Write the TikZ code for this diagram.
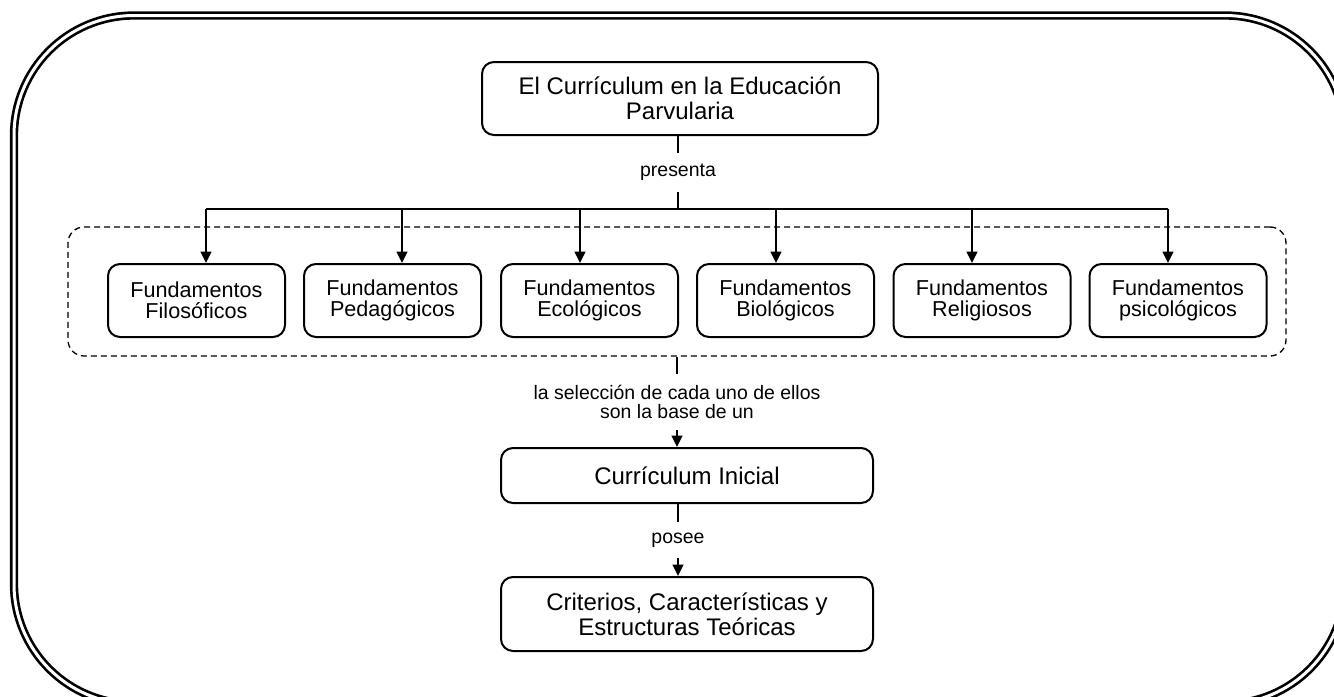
\documentclass[tikz,border=0pt]{standalone}
\usepackage{fontspec}
\setmainfont{Liberation Sans}
\usetikzlibrary{arrows.meta}
\begin{document}
\begin{tikzpicture}[x=0.75pt,y=-0.75pt,
  box/.style={draw, line width=1.5pt, rounded corners=9pt, align=center, inner sep=0pt},
  bigbox/.style={box, font=\fontsize{18}{18.75}\selectfont},
  fundbox/.style={box, minimum width=132.75pt, minimum height=54.75pt,
    font=\fontsize{16.2}{16}\selectfont},
  lbl/.style={inner sep=0pt, align=center, font=\fontsize{14.6}{14.3}\selectfont},
  link/.style={line width=1.5pt},
  arr/.style={link, -{Triangle[width=8pt,length=8.5pt]}},
]
\useasboundingbox (0,0) rectangle (1334,696);
\clip (0,0) rectangle (1334,696);

% outer double frame, running past the right and bottom edges
\draw[line width=2pt, double, double distance=2.25pt, rounded corners=90pt]
  (14,15.5) rectangle (1345,704);

% dashed group around the six fundamentos
\node[draw, line width=1pt, dash pattern=on 4.5pt off 3pt, rounded corners=12pt,
  minimum width=913.5pt, minimum height=96.75pt, inner sep=0pt] (grp) at (677,291.5) {};

% main nodes
\node[bigbox, minimum width=297pt, minimum height=54.75pt] (top) at (680,98.5)
  {El Currículum en la Educación\\Parvularia};

\node[fundbox] (f1) at (196.5,300.5) {Fundamentos\\Filosóficos};
\node[fundbox] (f2) at (392.5,300.5) {Fundamentos\\Pedagógicos};
\node[fundbox] (f3) at (589.5,300.5) {Fundamentos\\Ecológicos};
\node[fundbox] (f4) at (785.5,300.5) {Fundamentos\\Biológicos};
\node[fundbox] (f5) at (982,300.5) {Fundamentos\\Religiosos};
\node[fundbox] (f6) at (1178,300.5) {Fundamentos\\psicológicos};

\node[bigbox, minimum width=279pt, minimum height=41.25pt] (ci) at (687,475.5)
  {Currículum Inicial};
\node[bigbox, minimum width=279pt, minimum height=55.5pt] (cr) at (687,614)
  {Criterios, Características y\\Estructuras Teóricas};

% link labels
\node[lbl, minimum height=29.25pt] (presenta) at (678,172.5) {presenta};
\node[lbl, minimum height=42pt] (sel) at (677,402) {la selección de cada uno de ellos\\son la base de un};
\node[lbl, minimum height=27pt] (posee) at (678,540) {posee};

% bus to the fundamentos
\coordinate (bus) at (678,209);
\coordinate (b1) at (206,209);
\coordinate (b2) at (402,209);
\coordinate (b3) at (580,209);
\coordinate (b4) at (776,209);
\coordinate (b5) at (972,209);
\coordinate (b6) at (1168,209);

\draw[link] (top.south -| presenta) -- (presenta.north);
\draw[link] (presenta.south) -- (bus);
\draw[link] (b1) -- (b6);
\draw[arr] (b1) -- (b1 |- f1.north);
\draw[arr] (b2) -- (b2 |- f2.north);
\draw[arr] (b3) -- (b3 |- f3.north);
\draw[arr] (b4) -- (b4 |- f4.north);
\draw[arr] (b5) -- (b5 |- f5.north);
\draw[arr] (b6) -- (b6 |- f6.north);

\draw[link] (grp.south) -- (sel.north);
\draw[arr] (sel.south) -- (sel.south |- ci.north);
\draw[link] (ci.south -| posee) -- (posee.north);
\draw[arr] (posee.south) -- (posee.south |- cr.north);
\end{tikzpicture}
\end{document}
